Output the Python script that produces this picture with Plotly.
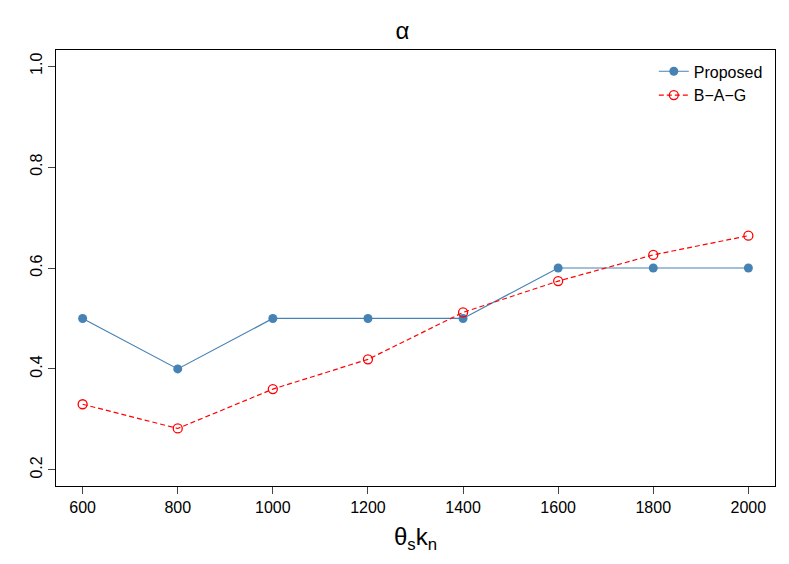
import plotly.graph_objects as go

x = [600, 800, 1000, 1200, 1400, 1600, 1800, 2000]
proposed = [0.5, 0.4, 0.5, 0.5, 0.5, 0.6, 0.6, 0.6]
bag = [0.33, 0.282, 0.36, 0.419, 0.512, 0.574, 0.626, 0.664]
xticks = [600, 800, 1000, 1200, 1400, 1600, 1800, 2000]
yticks = [0.2, 0.4, 0.6, 0.8, 1.0]

fig = go.Figure()
fig.add_trace(go.Scatter(x=x, y=proposed, mode="lines+markers", name="Proposed",
                         line=dict(color="steelblue", width=1.2),
                         marker=dict(color="steelblue", size=9)))
fig.add_trace(go.Scatter(x=x, y=bag, mode="lines+markers", name="B\u2212A\u2212G",
                         line=dict(color="red", width=1.2, dash="5px,3px"),
                         marker=dict(color="red", size=9, symbol="circle-open",
                                     line=dict(color="red", width=1.3))))

fig.update_layout(
    width=789, height=564, plot_bgcolor="white", paper_bgcolor="white",
    margin=dict(l=48, r=22, t=42, b=86),
    font=dict(family="Liberation Sans, Arial", size=16, color="black"),
    title=dict(text="α", x=0.5, xanchor="center", y=0.975, font=dict(size=24)),
    legend=dict(x=0.99, y=0.99, xanchor="right", yanchor="top",
                bgcolor="rgba(0,0,0,0)", font=dict(size=16)),
    showlegend=True,
)
fig.update_xaxes(range=[544, 2056], tickvals=xticks, ticks="outside", ticklen=7,
                 showline=True, mirror=True, linecolor="black", showgrid=False,
                 zeroline=False, automargin=False,
                 title=dict(text="θ<sub>s</sub>k<sub>n</sub>", font=dict(size=24), standoff=12))
fig.update_yaxes(range=[0.168, 1.032], tickvals=yticks, ticktext=["0.2", "0.4", "0.6", "0.8", "1.0"],
                 tickangle=-90, ticks="outside", ticklen=7, automargin=False,
                 showline=True, mirror=True, linecolor="black", showgrid=False, zeroline=False)
fig.write_html("out.html")
